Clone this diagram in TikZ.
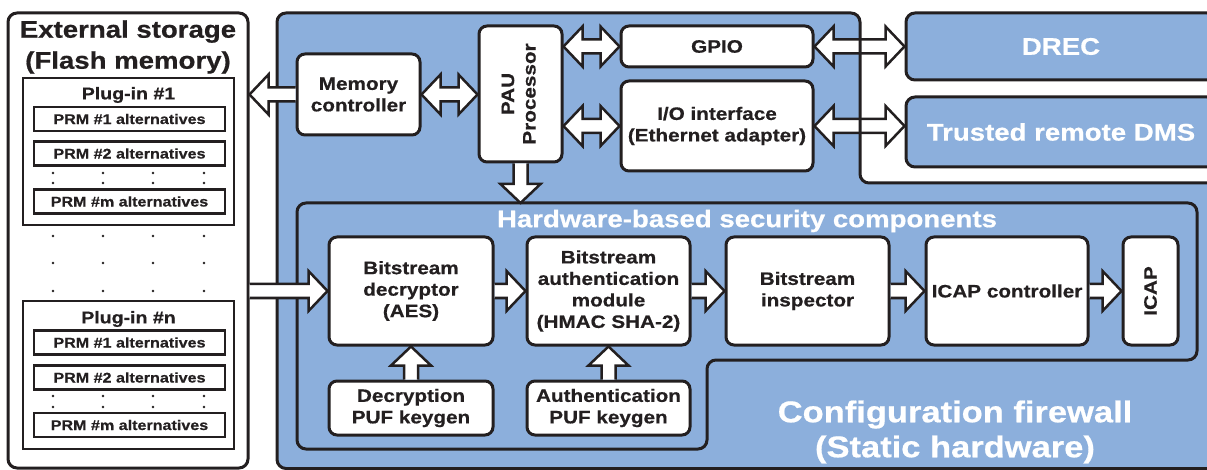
\documentclass[tikz,border=0pt]{standalone}
\usepackage{fontspec}
\setmainfont{Liberation Sans}[FakeStretch=1.15, BoldFeatures={FakeBold=0.6}]
\usetikzlibrary{calc}

\definecolor{fwblue}{RGB}{140,175,220}
\definecolor{ink}{RGB}{35,31,32}

\newcommand{\fbig}{\fontsize{24}{31}\selectfont\bfseries}
\newcommand{\fhuge}{\fontsize{30}{35}\selectfont\bfseries}
\newcommand{\fmid}{\fontsize{18}{21.5}\selectfont\bfseries}
\newcommand{\fplug}{\fontsize{17}{20}\selectfont\bfseries}
\newcommand{\fprm}{\fontsize{14}{16}\selectfont\bfseries}

% fat white arrow, tip at #2
\newcommand{\fatarrow}[2]{%
  \path (#1) coordinate (fas) (#2) coordinate (fat);
  \path ($(fat)!19pt!(fas)$) coordinate (fah);
  \filldraw[arrowbody] ($(fas)!7pt!90:(fat)$) -- ($(fah)!7pt!90:(fat)$) -- ($(fah)!20pt!90:(fat)$) -- (fat)
    -- ($(fah)!20pt!-90:(fat)$) -- ($(fah)!7pt!-90:(fat)$) -- ($(fas)!7pt!-90:(fat)$);}
% fat white arrow, tips at both ends
\newcommand{\dblarrow}[2]{%
  \path (#1) coordinate (fas) (#2) coordinate (fat);
  \path ($(fas)!19pt!(fat)$) coordinate (fha) ($(fat)!19pt!(fas)$) coordinate (fhb);
  \filldraw[arrowbody] ($(fha)!7pt!90:(fat)$) -- ($(fhb)!7pt!90:(fat)$) -- ($(fhb)!20pt!90:(fat)$) -- (fat)
    -- ($(fhb)!20pt!-90:(fat)$) -- ($(fhb)!7pt!-90:(fat)$) -- ($(fha)!7pt!-90:(fat)$)
    -- ($(fha)!20pt!-90:(fat)$) -- (fas) -- ($(fha)!20pt!90:(fat)$) -- cycle;}

\begin{document}
\begin{tikzpicture}[x=1pt, y=-1pt, line width=3pt, color=ink,
    blk/.style={draw, fill=white, rounded corners=8pt, align=center, inner sep=0pt, font=\fmid},
    plug/.style={draw, fill=white, line width=2.6pt, minimum width=211pt, minimum height=147pt},
    prm/.style={draw, fill=white, line width=2.6pt, minimum width=191pt, minimum height=24pt, inner sep=0pt, font=\fprm},
    outbox/.style={draw, fill=fwblue, rounded corners=9pt, text=white, font=\fbig},
    arrowbody/.style={fill=white, draw, line width=2.5pt, line join=miter}]
  \useasboundingbox (0,0) rectangle (1207,470);
  \clip (0,0) rectangle (1207,470);

  % External storage
  \node[draw, fill=white, rounded corners=9pt, minimum width=240pt, minimum height=455pt] (ext) at (128,240.5) {};
  \node[font=\fbig, align=center] (exttitle) at (128,47) {External storage\\(Flash memory)};

  % Plug-in #1
  \node[plug] (plug1) at (128.5,151.5) {};
  \node[font=\fplug] (plug1title) at (128.5,95) {Plug-in \#1};
  \node[prm] (prm1a) at (129.5,119) {PRM \#1 alternatives};
  \node[prm] (prm1b) at (129.5,153.5) {PRM \#2 alternatives};
  \node[prm] (prm1m) at (129.5,201.5) {PRM \#m alternatives};

  % Plug-in #n
  \node[plug, minimum height=148pt] (plugn) at (128.5,375) {};
  \node[font=\fplug] (plugntitle) at (128.5,319) {Plug-in \#n};
  \node[prm] (prmna) at (129.5,342.5) {PRM \#1 alternatives};
  \node[prm] (prmnb) at (129.5,377.5) {PRM \#2 alternatives};
  \node[prm] (prmnm) at (129.5,425) {PRM \#m alternatives};

  % Dots
  \foreach \y in {173,183,236,263,291,396,407}
    \foreach \x in {53,103,153,204}
      \fill (\x,\y) circle (1.3pt);

  % Configuration firewall area
  \fill[fwblue, rounded corners=9pt] (277,13) -- (860,13) -- (860,183) -- (1240,183) -- (1240,468.5) -- (277,468.5) -- cycle;

  % Outside the firewall
  \node[outbox, minimum width=310pt, minimum height=67pt] (drec) at (1061,46.5) {DREC};
  \node[outbox, minimum width=310pt, minimum height=70pt] (trusted) at (1061,132) {Trusted remote DMS};

  \node[blk, minimum width=192pt, minimum height=41pt] (gpio) at (717,46.5) {GPIO};
  \node[blk, minimum width=192pt, minimum height=90pt] (io) at (717,126) {I/O interface\\(Ethernet adapter)};

  \dblarrow{gpio.east}{drec.west |- gpio.east}
  \dblarrow{io.east}{trusted.west |- io.east}

  \draw[rounded corners=9pt] (277,13) -- (860,13) -- (860,183) -- (1240,183) -- (1240,468.5) -- (277,468.5) -- cycle;

  % Memory controller and processor
  \node[blk, minimum width=123pt, minimum height=81pt] (mem) at (358.5,94.5) {Memory\\controller};
  \node[blk, minimum width=83pt, minimum height=136pt] (pau) at (520.5,94)
    {\rotatebox{90}{\begin{tabular}{@{}c@{}}PAU\\Processor\end{tabular}}};

  \dblarrow{mem.east}{pau.west |- mem.east}
  \dblarrow{pau.east |- gpio.west}{gpio.west}
  \dblarrow{pau.east |- io.west}{io.west}

  % Hardware-based security components
  \draw[rounded corners=9pt] (297,203) -- (1197,203) -- (1197,360) -- (707,360) -- (707,449) -- (297,449) -- cycle;
  \coordinate (hwtop) at (297,203);
  \node[text=white, font=\fbig] (hwtitle) at (747,221) {Hardware-based security components};

  \node[blk, minimum width=164pt, minimum height=108pt] (dec) at (411,291) {Bitstream\\decryptor\\(AES)};
  \node[blk, minimum width=163pt, minimum height=108pt] (auth) at (608.5,291) {Bitstream\\authentication\\module\\(HMAC SHA-2)};
  \node[blk, minimum width=163pt, minimum height=108pt] (insp) at (807.5,291) {Bitstream\\inspector};
  \node[blk, minimum width=162pt, minimum height=108pt] (icapc) at (1007,291) {ICAP controller};
  \node[blk, minimum width=55pt, minimum height=108pt] (icap) at (1150.5,291) {\rotatebox{90}{ICAP}};
  \node[blk, minimum width=164pt, minimum height=54pt] (deckey) at (411,408) {Decryption\\PUF keygen};
  \node[blk, minimum width=163pt, minimum height=54pt] (authkey) at (608.5,408) {Authentication\\PUF keygen};

  \fatarrow{pau.south}{pau.south |- hwtop}
  \fatarrow{dec.east}{auth.west}
  \fatarrow{auth.east}{insp.west}
  \fatarrow{insp.east}{icapc.west}
  \fatarrow{icapc.east}{icap.west}
  \fatarrow{deckey.north}{dec.south}
  \fatarrow{authkey.north}{auth.south}

  % To and from external storage
  \fatarrow{mem.west}{ext.east |- mem.west}
  \fatarrow{ext.east |- dec.west}{dec.west}

  \node[text=white, font=\fhuge, align=center] (fwtitle) at (955,432) {Configuration firewall\\(Static hardware)};
\end{tikzpicture}
\end{document}
